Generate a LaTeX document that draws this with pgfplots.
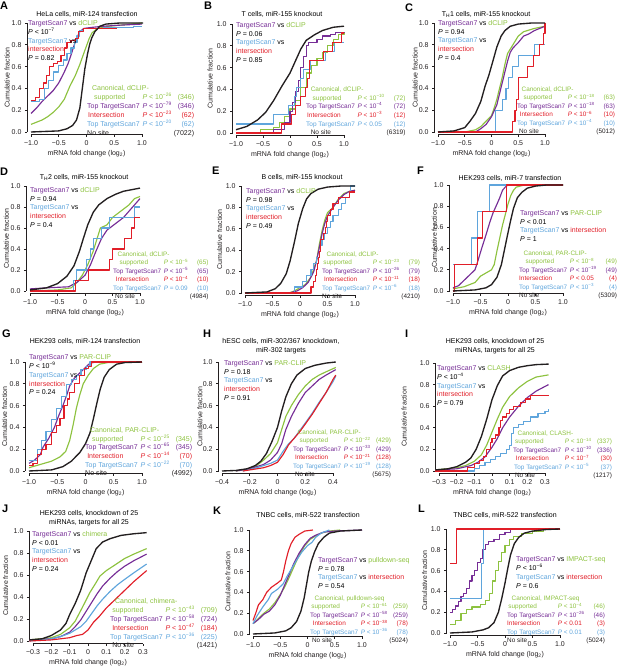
\documentclass[border=0pt]{standalone}
\usepackage{pgfplots}
\pgfplotsset{compat=1.18}
\usepackage{fontspec}
\setmainfont{Liberation Sans}
\definecolor{cg}{RGB}{141,194,63}
\definecolor{cp}{RGB}{118,45,150}
\definecolor{cr}{RGB}{225,30,40}
\definecolor{cb}{RGB}{95,165,220}
\definecolor{ck}{RGB}{35,31,32}
\newcommand\fs{\fontsize{7bp}{8.7bp}\selectfont}
\newcommand\fj{\fontsize{7bp}{8.1bp}\selectfont}
\newcommand\fl{\fontsize{6.4bp}{8.5bp}\selectfont}
\newcommand\fm{\fontsize{6.5bp}{8.6bp}\selectfont}
\newcommand\cG[1]{\textcolor{cg}{#1}}
\newcommand\cP[1]{\textcolor{cp}{#1}}
\newcommand\cR[1]{\textcolor{cr}{#1}}
\newcommand\cB[1]{\textcolor{cb}{#1}}
\newcommand\Pe[1]{\textit{P} < 10\textsuperscript{−#1}}
\newcommand\Pq[1]{\textit{P} = #1}
\newcommand\Pl[1]{\textit{P} < #1}
\newcommand\Rw[4]{\textcolor{#1}{#2} & \textcolor{#1}{#3} & \textcolor{#1}{#4}\\}
% legend block: [font] position, green first line, rows
\newcommand\Leg[4][\fl]{\node[anchor=north west, inner sep=0pt, font=#1] at (#2) {\begin{tabular}{@{}l@{\hspace{0.4em}}l@{\hspace{0.3em}}r@{}}\multicolumn{3}{@{}l@{}}{\cG{\hspace{0.7em}#3}}\\ #4\end{tabular}};}
% five-line comparison block
\newcommand\BlkF[4]{\node[anchor=north west, inner sep=0pt, font=\fs] at (#1) {\begin{tabular}{@{}l@{}}\cP{TargetScan7} vs \cG{#2}\\ #3\\ \cB{TargetScan7} vs\\ \cR{intersection}\\ #4\end{tabular}};}
% four-line comparison block
\newcommand\BlkS[4]{\node[anchor=north west, inner sep=0pt, font=\fs] at (#1) {\begin{tabular}{@{}l@{}}\cP{TargetScan7} vs \cG{#2}\\ #3\\ \cB{TargetScan7} vs \cR{intersection}\\ #4\end{tabular}};}
\newcommand\Ttl[2]{\node[font=\fs, align=center, inner sep=0pt] at (#1) {#2};}
\newcommand\Let[2]{\node[anchor=north west, inner sep=0pt, font=\fontsize{11bp}{11bp}\selectfont\bfseries] at (#1) {#2};}
\pgfplotsset{
 cdf/.style={scale only axis, ymin=0, ymax=1, clip=false,
  axis lines=left, axis line style={-, line width=0.6bp, ck},
  axis x line shift=2.5bp, axis y line shift=3.5bp,
  tick align=outside, major tick length=2.5bp,
  tick style={line width=0.6bp, ck},
  tick label style={font=\fs, ck}, label style={font=\fs, ck},
  ytick={0,0.2,0.4,0.6,0.8,1}, yticklabels={0.0,0.2,0.4,0.6,0.8,1.0},
  xlabel={mRNA fold change (log\textsubscript{2})}, ylabel={Cumulative fraction},
  xlabel style={yshift=1.5bp},
  ylabel style={at={(axis description cs:-0.215,0.5)}, anchor=center}},
 yl/.style={ylabel style={at={(axis description cs:#1,0.5)}}},
 panel/.style n args={6}{at={(#1bp,#2bp)}, anchor=south west, width=#3bp, height=#4bp, xmin=#5, xmax=#6},
 xa/.style={xtick={-1,-0.5,0,0.5,1}, xticklabels={−1.0,−0.5,0,0.5,1.0}},
 xh/.style={xtick={-0.4,-0.2,0,0.2,0.4}, xticklabels={−0.4,−0.2,0,0.2,0.4}},
 xi/.style={xtick={-0.3,-0.2,-0.1,0,0.1,0.2,0.3}, xticklabels={−0.3,−0.2,−0.1,0,0.1,0.2,0.3}},
 lk/.style={ck, line width=1.35bp, line join=round},
 lg/.style={cg, line width=1.15bp, line join=round},
 lp/.style={cp, line width=1.15bp, line join=round},
 lr/.style={cr, line width=1.15bp, line join=round},
 lb/.style={cb, line width=1.15bp, line join=round},
 st/.style={const plot mark left},
}
\begin{document}
\begin{tikzpicture}
\useasboundingbox (0,0) rectangle (617bp,667bp);
% ---------------- A
\begin{axis}[cdf, panel={31}{535}{111}{109}{-1}{1}, xa]
\addplot[lg] coordinates {(-1,0.07)(-0.9,0.09)(-0.8,0.11)(-0.7,0.14)(-0.6,0.18)(-0.5,0.23)(-0.4,0.3)(-0.3,0.42)(-0.2,0.52)(-0.12,0.62)(-0.05,0.72)(0,0.79)(0.05,0.86)(0.1,0.91)(0.2,0.95)(0.4,0.97)(0.6,0.98)(0.8,0.99)(1.0,1.0)};
\addplot[lp] coordinates {(-1,0.17)(-0.9,0.22)(-0.8,0.28)(-0.7,0.33)(-0.6,0.38)(-0.5,0.45)(-0.4,0.55)(-0.33,0.63)(-0.27,0.72)(-0.22,0.8)(-0.17,0.87)(-0.12,0.92)(-0.05,0.95)(0.1,0.96)(0.3,0.97)(0.6,0.98)(1.0,0.99)};
\addplot[lb,st] coordinates {(-1.0,0.28)(-0.85,0.3)(-0.75,0.4)(-0.68,0.47)(-0.6,0.55)(-0.5,0.61)(-0.42,0.66)(-0.35,0.72)(-0.28,0.77)(-0.22,0.82)(-0.17,0.88)(-0.12,0.93)(-0.05,0.95)(0.3,0.96)(0.85,0.97)(1.0,0.97)};
\addplot[lr,st] coordinates {(-1.0,0.29)(-0.92,0.32)(-0.85,0.40)(-0.78,0.45)(-0.72,0.52)(-0.66,0.6)(-0.6,0.63)(-0.52,0.65)(-0.46,0.7)(-0.4,0.77)(-0.35,0.82)(-0.28,0.84)(-0.2,0.86)(-0.15,0.92)(-0.05,0.95)(0.55,0.95)};
\addplot[lk] coordinates {(-1,0.0)(-0.5,0.01)(-0.35,0.03)(-0.25,0.06)(-0.18,0.11)(-0.12,0.22)(-0.08,0.38)(-0.03,0.58)(0.02,0.72)(0.06,0.81)(0.1,0.87)(0.15,0.92)(0.24,0.97)(0.35,0.99)(0.6,1.0)(1.02,1.0)};
\end{axis}
% ---------------- B
\begin{axis}[cdf, panel={236}{534}{108}{109}{-1}{1}, xa, yl=-0.24]
\addplot[lg,st] coordinates {(-1,0.0)(-0.55,0.03)(-0.3,0.05)(-0.2,0.1)(-0.1,0.15)(0,0.22)(0.1,0.3)(0.2,0.42)(0.3,0.55)(0.4,0.62)(0.5,0.68)(0.6,0.74)(0.7,0.8)(0.8,0.86)(0.9,0.9)(1.0,0.93)};
\addplot[lp,st] coordinates {(-1,0.0)(-0.3,0.03)(-0.1,0.1)(0,0.2)(0.05,0.28)(0.1,0.38)(0.15,0.48)(0.2,0.6)(0.25,0.7)(0.3,0.8)(0.35,0.83)(0.5,0.86)(0.6,0.89)(0.75,0.9)(0.85,0.92)(1.0,0.93)};
\addplot[lb,st] coordinates {(-1,0.083)(-0.3,0.167)(-0.02,0.25)(0.08,0.333)(0.12,0.417)(0.2,0.5)(0.25,0.583)(0.38,0.667)(0.65,0.75)(0.82,0.833)(1.0,0.833)};
\addplot[lr,st] coordinates {(-1,0)(-0.15,0.083)(0.02,0.167)(0.1,0.25)(0.2,0.333)(0.28,0.417)(0.33,0.5)(0.36,0.667)(0.62,0.75)(0.78,0.833)(0.95,0.917)(1.0,0.917)};
\addplot[lk] coordinates {(-1,0.03)(-0.8,0.06)(-0.6,0.12)(-0.45,0.19)(-0.3,0.3)(-0.15,0.43)(0,0.55)(0.1,0.66)(0.2,0.77)(0.3,0.85)(0.45,0.9)(0.6,0.94)(0.8,0.97)(1.0,0.98)};
\end{axis}
% ---------------- C
\begin{axis}[cdf, panel={438}{535}{107}{109}{-1}{1}, xa]
\addplot[lg] coordinates {(-0.5,0.0)(-0.3,0.02)(-0.2,0.05)(-0.1,0.1)(0,0.15)(0.05,0.22)(0.1,0.3)(0.15,0.4)(0.2,0.5)(0.25,0.62)(0.3,0.72)(0.4,0.8)(0.5,0.88)(0.6,0.92)(0.8,0.95)(1.0,0.97)};
\addplot[lp] coordinates {(-0.3,0.0)(-0.2,0.03)(-0.1,0.07)(0,0.14)(0.1,0.25)(0.15,0.35)(0.2,0.45)(0.25,0.55)(0.3,0.65)(0.35,0.73)(0.4,0.77)(0.5,0.82)(0.6,0.88)(0.7,0.9)(0.8,0.93)(1.0,0.97)};
\addplot[lb,st] coordinates {(-1,0)(0.08,0.2)(0.2,0.3)(0.27,0.4)(0.32,0.5)(0.4,0.6)(0.5,0.7)(0.8,0.8)(1.0,0.8)};
\addplot[lr,st] coordinates {(-1,0)(0.4,0.1)(0.44,0.2)(0.47,0.3)(0.5,0.5)(0.68,0.6)(0.78,0.7)(0.9,0.8)(0.97,0.9)(1.0,1.0)};
\addplot[lk] coordinates {(-1,0.0)(-0.7,0.01)(-0.5,0.04)(-0.4,0.1)(-0.3,0.17)(-0.2,0.28)(-0.12,0.42)(-0.05,0.52)(0.02,0.64)(0.1,0.78)(0.18,0.88)(0.25,0.93)(0.35,0.97)(0.5,0.99)(0.75,1.0)(1.0,1.0)};
\end{axis}
% ---------------- D
\begin{axis}[cdf, panel={30}{376}{110}{105}{-1}{1}, xa]
\addplot[lg] coordinates {(-1,0.0)(-0.5,0.01)(-0.25,0.03)(-0.15,0.08)(-0.05,0.15)(0.05,0.25)(0.15,0.38)(0.22,0.5)(0.28,0.6)(0.4,0.63)(0.5,0.7)(0.6,0.74)(0.7,0.78)(0.8,0.82)(0.9,0.88)(1.0,0.9)};
\addplot[lp] coordinates {(-1,0.02)(-0.7,0.03)(-0.3,0.04)(-0.15,0.08)(0,0.15)(0.1,0.25)(0.2,0.38)(0.3,0.5)(0.4,0.58)(0.5,0.62)(0.6,0.66)(0.7,0.7)(0.8,0.76)(0.9,0.82)(1.0,0.88)};
\addplot[lb,st] coordinates {(-1,0)(-0.21,0.1)(-0.15,0.2)(0.03,0.3)(0.1,0.4)(0.15,0.5)(0.3,0.6)(0.45,0.7)(0.9,0.8)(1.0,0.8)};
\addplot[lr,st] coordinates {(-1,0)(-0.18,0.1)(0.07,0.2)(0.45,0.3)(0.5,0.4)(0.72,0.5)(0.85,0.6)(0.9,0.7)(1.0,0.7)};
\addplot[lk] coordinates {(-1,0.01)(-0.7,0.03)(-0.5,0.07)(-0.33,0.14)(-0.2,0.24)(-0.1,0.38)(-0.03,0.5)(0.05,0.63)(0.15,0.75)(0.25,0.82)(0.4,0.88)(0.55,0.92)(0.7,0.95)(1.0,0.98)};
\end{axis}
% ---------------- E
\begin{axis}[cdf, panel={245}{374}{110}{107}{-1}{1}, xa, yl=-0.23]
\addplot[lg] coordinates {(-0.2,0)(-0.1,0.02)(0,0.05)(0.1,0.08)(0.2,0.15)(0.3,0.3)(0.35,0.45)(0.4,0.58)(0.45,0.68)(0.5,0.75)(0.6,0.8)(0.7,0.88)(0.8,0.93)(0.9,0.95)(1.0,0.96)};
\addplot[lp] coordinates {(-0.2,0)(-0.05,0.02)(0.05,0.05)(0.15,0.1)(0.25,0.2)(0.3,0.3)(0.35,0.42)(0.4,0.55)(0.45,0.65)(0.5,0.72)(0.6,0.8)(0.7,0.87)(0.8,0.92)(0.9,0.95)(1.0,0.96)};
\addplot[lb,st] coordinates {(-1,0)(-0.1,0.056)(0.05,0.111)(0.12,0.167)(0.2,0.222)(0.25,0.278)(0.3,0.333)(0.35,0.389)(0.38,0.444)(0.4,0.5)(0.45,0.556)(0.5,0.611)(0.55,0.667)(0.6,0.722)(0.7,0.778)(0.75,0.833)(0.82,0.889)(0.9,0.944)(0.92,1.0)(1.0,1.0)};
\addplot[lr,st] coordinates {(-1,0)(0.2,0.056)(0.25,0.111)(0.28,0.167)(0.3,0.222)(0.32,0.278)(0.34,0.333)(0.36,0.389)(0.38,0.5)(0.42,0.556)(0.46,0.611)(0.48,0.667)(0.5,0.722)(0.55,0.778)(0.6,0.833)(0.7,0.889)(0.9,0.944)(1.0,0.944)};
\addplot[lk] coordinates {(-1,0.0)(-0.6,0.01)(-0.45,0.04)(-0.35,0.09)(-0.25,0.18)(-0.18,0.3)(-0.1,0.48)(-0.03,0.65)(0.05,0.79)(0.12,0.88)(0.2,0.93)(0.33,0.97)(0.5,0.99)(0.75,1.0)(1.0,1.0)};
\end{axis}
% ---------------- F
\begin{axis}[cdf, panel={453}{376}{110}{106}{-1}{1}, xa, yl=-0.17]
\addplot[lg] coordinates {(-1,0.02)(-0.8,0.04)(-0.6,0.08)(-0.5,0.14)(-0.4,0.17)(-0.3,0.2)(-0.25,0.25)(-0.2,0.38)(-0.15,0.5)(-0.1,0.62)(-0.05,0.72)(0,0.82)(0.05,0.9)(0.1,0.95)(0.15,0.98)(0.3,1.0)(1.0,1.0)};
\addplot[lp] coordinates {(-1,0.03)(-0.9,0.05)(-0.8,0.1)(-0.7,0.15)(-0.6,0.2)(-0.55,0.28)(-0.48,0.4)(-0.4,0.53)(-0.33,0.65)(-0.27,0.74)(-0.2,0.82)(-0.15,0.88)(-0.1,0.95)(-0.05,0.98)(0,1.0)(1.0,1.0)};
\addplot[lb,st] coordinates {(-1,0.25)(-0.67,0.5)(-0.55,0.75)(-0.33,1.0)(1.0,1.0)};
\addplot[lr,st] coordinates {(-1,0)(-0.97,0.25)(-0.55,0.5)(-0.47,0.75)(-0.02,1.0)(1.0,1.0)};
\addplot[lk] coordinates {(-1,0.0)(-0.6,0.01)(-0.4,0.03)(-0.3,0.06)(-0.2,0.13)(-0.12,0.25)(-0.06,0.4)(0,0.55)(0.05,0.67)(0.1,0.78)(0.17,0.88)(0.25,0.93)(0.35,0.97)(0.5,0.99)(0.7,1.0)(1.0,1.0)};
\end{axis}
% ---------------- G
\begin{axis}[cdf, panel={29}{196}{113}{109}{-1}{1}, xa]
\addplot[lg] coordinates {(-1,0.03)(-0.8,0.06)(-0.6,0.09)(-0.45,0.13)(-0.35,0.18)(-0.28,0.28)(-0.22,0.42)(-0.16,0.58)(-0.1,0.7)(-0.04,0.8)(0.05,0.88)(0.14,0.94)(0.25,0.98)(0.4,0.995)(1.0,1.0)};
\addplot[lp] coordinates {(-1,0.07)(-0.9,0.1)(-0.8,0.15)(-0.75,0.22)(-0.65,0.3)(-0.55,0.4)(-0.48,0.5)(-0.4,0.6)(-0.33,0.7)(-0.28,0.78)(-0.2,0.85)(-0.1,0.9)(0,0.95)(0.08,0.99)(0.2,1.0)(1,1)};
\addplot[lb,st] coordinates {(-1,0.1)(-0.85,0.2)(-0.78,0.28)(-0.7,0.36)(-0.6,0.47)(-0.51,0.57)(-0.42,0.68)(-0.34,0.79)(-0.25,0.84)(-0.16,0.88)(-0.08,0.93)(0.02,0.96)(0.08,1.0)(1,1)};
\addplot[lr,st] coordinates {(-1,0.05)(-0.93,0.07)(-0.85,0.15)(-0.78,0.2)(-0.7,0.24)(-0.6,0.35)(-0.52,0.42)(-0.45,0.48)(-0.38,0.6)(-0.32,0.66)(-0.28,0.72)(-0.2,0.8)(-0.1,0.88)(-0.02,0.94)(0.05,0.96)(0.1,1.0)(1,1)};
\addplot[lk] coordinates {(-1,0.0)(-0.6,0.01)(-0.4,0.04)(-0.25,0.09)(-0.1,0.17)(0,0.25)(0.08,0.35)(0.14,0.48)(0.2,0.62)(0.26,0.75)(0.33,0.86)(0.42,0.93)(0.55,0.98)(0.7,0.995)(1.0,1.0)};
\end{axis}
% ---------------- H
\begin{axis}[cdf, panel={222}{196}{111}{109}{-0.4}{0.4}, xh, yl=-0.2]
\addplot[lg] coordinates {(-0.3,0.0)(-0.2,0.02)(-0.15,0.05)(-0.1,0.1)(-0.05,0.16)(0,0.26)(0.03,0.38)(0.06,0.5)(0.1,0.6)(0.15,0.7)(0.2,0.78)(0.25,0.84)(0.3,0.88)(0.35,0.91)(0.42,0.95)};
\addplot[lp] coordinates {(-0.3,0)(-0.2,0.02)(-0.1,0.06)(-0.05,0.1)(0,0.17)(0.03,0.25)(0.06,0.38)(0.1,0.5)(0.15,0.62)(0.2,0.72)(0.25,0.78)(0.3,0.84)(0.35,0.88)(0.42,0.93)};
\addplot[lb] coordinates {(-0.25,0.0)(-0.15,0.03)(-0.1,0.05)(-0.05,0.07)(0,0.1)(0.04,0.18)(0.08,0.25)(0.12,0.3)(0.16,0.37)(0.2,0.44)(0.25,0.53)(0.3,0.63)(0.35,0.72)(0.4,0.82)(0.42,0.87)};
\addplot[lr] coordinates {(-0.25,0.0)(-0.2,0.01)(-0.1,0.03)(-0.05,0.05)(0,0.08)(0.04,0.15)(0.08,0.24)(0.12,0.3)(0.16,0.36)(0.2,0.43)(0.25,0.52)(0.3,0.62)(0.35,0.72)(0.4,0.84)(0.42,0.88)};
\addplot[lk] coordinates {(-0.4,0.0)(-0.3,0.005)(-0.22,0.02)(-0.16,0.05)(-0.12,0.09)(-0.08,0.16)(-0.04,0.27)(0,0.4)(0.03,0.55)(0.06,0.68)(0.1,0.8)(0.14,0.88)(0.2,0.94)(0.27,0.97)(0.35,0.99)(0.42,1.0)};
\end{axis}
% ---------------- I
\begin{axis}[cdf, panel={439}{196}{106}{108}{-0.3}{0.3}, xi, yl=-0.33]
\addplot[lg] coordinates {(-0.32,0.01)(-0.2,0.03)(-0.15,0.05)(-0.1,0.09)(-0.06,0.15)(-0.03,0.24)(0,0.36)(0.03,0.48)(0.06,0.59)(0.1,0.69)(0.15,0.77)(0.2,0.83)(0.25,0.87)(0.32,0.89)};
\addplot[lp] coordinates {(-0.32,0.01)(-0.2,0.02)(-0.12,0.05)(-0.08,0.08)(-0.04,0.13)(0,0.22)(0.03,0.3)(0.06,0.4)(0.1,0.5)(0.15,0.6)(0.2,0.68)(0.25,0.74)(0.32,0.8)};
\addplot[lb,st] coordinates {(-0.32,0.0)(-0.1,0.027)(-0.07,0.054)(-0.04,0.081)(-0.01,0.108)(0.02,0.135)(0.05,0.16)(0.08,0.2)(0.1,0.24)(0.11,0.35)(0.12,0.4)(0.15,0.43)(0.18,0.46)(0.22,0.5)(0.26,0.53)(0.3,0.55)(0.32,0.57)};
\addplot[lr,st] coordinates {(-0.32,0.0)(-0.14,0.033)(-0.1,0.067)(-0.07,0.1)(-0.05,0.133)(-0.03,0.2)(-0.01,0.267)(0.0,0.3)(0.02,0.333)(0.04,0.4)(0.05,0.467)(0.06,0.5)(0.08,0.533)(0.1,0.567)(0.12,0.6)(0.16,0.633)(0.19,0.667)(0.22,0.7)(0.32,0.7)};
\addplot[lk] coordinates {(-0.32,0.01)(-0.25,0.02)(-0.2,0.04)(-0.15,0.08)(-0.12,0.12)(-0.09,0.2)(-0.06,0.32)(-0.03,0.48)(0,0.66)(0.03,0.79)(0.06,0.88)(0.1,0.93)(0.15,0.96)(0.2,0.975)(0.25,0.985)(0.32,0.99)};
\end{axis}
% ---------------- J
\begin{axis}[cdf, panel={33}{26}{110}{110}{-0.3}{0.3}, xi, yl=-0.25]
\addplot[lg] coordinates {(-0.32,0.01)(-0.2,0.03)(-0.15,0.06)(-0.1,0.12)(-0.07,0.18)(-0.045,0.26)(-0.02,0.34)(0.01,0.44)(0.04,0.52)(0.065,0.59)(0.1,0.64)(0.155,0.7)(0.2,0.75)(0.25,0.79)(0.32,0.84)};
\addplot[lp] coordinates {(-0.32,0.01)(-0.2,0.02)(-0.15,0.04)(-0.1,0.08)(-0.07,0.13)(-0.04,0.19)(-0.01,0.27)(0.02,0.35)(0.05,0.43)(0.08,0.5)(0.12,0.57)(0.16,0.63)(0.2,0.68)(0.25,0.73)(0.32,0.79)};
\addplot[lb] coordinates {(-0.32,0.0)(-0.2,0.02)(-0.15,0.04)(-0.1,0.07)(-0.07,0.1)(-0.04,0.13)(-0.01,0.18)(0.02,0.25)(0.05,0.32)(0.08,0.38)(0.12,0.45)(0.16,0.51)(0.2,0.56)(0.25,0.62)(0.32,0.7)};
\addplot[lr] coordinates {(-0.32,0.0)(-0.2,0.01)(-0.15,0.02)(-0.1,0.03)(-0.06,0.05)(-0.03,0.06)(0,0.1)(0.03,0.17)(0.06,0.22)(0.1,0.3)(0.15,0.38)(0.2,0.46)(0.25,0.54)(0.32,0.64)};
\addplot[lk] coordinates {(-0.32,0.01)(-0.25,0.02)(-0.2,0.05)(-0.15,0.1)(-0.12,0.16)(-0.1,0.24)(-0.07,0.34)(-0.04,0.46)(-0.01,0.62)(0.02,0.74)(0.045,0.84)(0.08,0.9)(0.12,0.93)(0.18,0.96)(0.25,0.975)(0.32,0.985)};
\end{axis}
% ---------------- K
\begin{axis}[cdf, panel={253}{33}{109}{104}{-1}{1}, xa, yl=-0.23]
\addplot[lg] coordinates {(-1,0.1)(-0.97,0.11)(-0.9,0.15)(-0.8,0.2)(-0.7,0.24)(-0.6,0.3)(-0.5,0.38)(-0.42,0.45)(-0.33,0.55)(-0.23,0.67)(-0.15,0.76)(-0.05,0.85)(0.05,0.91)(0.14,0.94)(0.25,0.97)(0.4,0.99)(0.6,1.0)};
\addplot[lp] coordinates {(-1,0.1)(-0.9,0.14)(-0.8,0.19)(-0.7,0.22)(-0.6,0.28)(-0.5,0.37)(-0.42,0.47)(-0.33,0.58)(-0.25,0.68)(-0.15,0.78)(-0.05,0.86)(0.05,0.92)(0.15,0.95)(0.3,0.98)(0.5,0.99)(1.0,1.0)};
\addplot[lb] coordinates {(-1,0.1)(-0.92,0.18)(-0.82,0.26)(-0.72,0.33)(-0.66,0.39)(-0.55,0.43)(-0.45,0.48)(-0.38,0.55)(-0.29,0.63)(-0.2,0.71)(-0.1,0.79)(0,0.85)(0.08,0.88)(0.15,0.93)(0.25,0.97)(0.4,1.0)};
\addplot[lr] coordinates {(-1,0.13)(-0.95,0.2)(-0.9,0.28)(-0.82,0.33)(-0.75,0.4)(-0.66,0.45)(-0.55,0.49)(-0.48,0.52)(-0.44,0.6)(-0.4,0.7)(-0.35,0.8)(-0.3,0.87)(-0.23,0.93)(-0.15,0.96)(-0.05,0.99)(0.1,1.0)};
\addplot[lk] coordinates {(-1,0.0)(-0.6,0.01)(-0.4,0.03)(-0.3,0.06)(-0.2,0.12)(-0.12,0.22)(-0.06,0.35)(-0.02,0.47)(0.02,0.59)(0.07,0.7)(0.13,0.79)(0.2,0.87)(0.3,0.93)(0.4,0.97)(0.6,0.99)(1.0,1.0)};
\end{axis}
% ---------------- L
\begin{axis}[cdf, panel={450}{34}{110}{104}{-1}{1}, xa, yl=-0.23]
\addplot[lg,st] coordinates {(-1,0.08)(-0.9,0.12)(-0.8,0.19)(-0.7,0.23)(-0.6,0.25)(-0.45,0.27)(-0.35,0.31)(-0.28,0.38)(-0.22,0.5)(-0.17,0.6)(-0.12,0.69)(-0.06,0.77)(0,0.84)(0.08,0.9)(0.15,0.93)(0.3,0.96)(0.5,0.98)(0.7,1.0)(1.0,1.0)};
\addplot[lp,st] coordinates {(-1,0.2)(-0.95,0.23)(-0.9,0.26)(-0.85,0.3)(-0.8,0.35)(-0.75,0.38)(-0.7,0.43)(-0.65,0.5)(-0.6,0.55)(-0.55,0.6)(-0.5,0.68)(-0.45,0.72)(-0.4,0.8)(-0.35,0.85)(-0.3,0.88)(-0.2,0.9)(-0.1,0.95)(0,0.97)(0.1,1.0)(1.0,1.0)};
\addplot[lb,st] coordinates {(-1,0.333)(-0.43,0.667)(-0.39,1.0)(1.0,1.0)};
\addplot[lr,st] coordinates {(-1,0.667)(-0.88,1.0)(1.0,1.0)};
\addplot[lk] coordinates {(-1,0.0)(-0.6,0.01)(-0.4,0.03)(-0.3,0.05)(-0.2,0.1)(-0.12,0.2)(-0.06,0.33)(0,0.48)(0.05,0.62)(0.1,0.75)(0.17,0.86)(0.25,0.92)(0.35,0.96)(0.5,0.98)(0.75,0.995)(1.0,1.0)};
\end{axis}
% ---------------- letters
\Let{0bp,665bp}{A}\Let{204bp,665bp}{B}\Let{405bp,663bp}{C}
\Let{0bp,499bp}{D}\Let{212bp,500bp}{E}\Let{417bp,500bp}{F}
\Let{2bp,337bp}{G}\Let{203bp,337bp}{H}\Let{405bp,337bp}{I}
\Let{2bp,162bp}{J}\Let{213bp,160bp}{K}\Let{418bp,162bp}{L}
% ---------------- titles
\Ttl{87bp,653bp}{HeLa cells, miR-124 transfection}
\Ttl{282bp,653bp}{T cells, miR-155 knockout}
\Ttl{486bp,653bp}{T\textsubscript{H}1 cells, miR-155 knockout}
\Ttl{84bp,490bp}{T\textsubscript{H}2 cells, miR-155 knockout}
\Ttl{302bp,490bp}{B cells, miR-155 knockout}
\Ttl{510bp,489bp}{HEK293 cells, miR-7 transfection}
\Ttl{85bp,326bp}{HEK293 cells, miR-124 transfection}
\Ttl{281bp,321bp}{hESC cells, miR-302/367 knockdown,\\miR-302 targets}
\Ttl{495bp,321bp}{HEK293 cells, knockdown of 25\\miRNAs, targets for all 25}
\Ttl{89bp,149bp}{HEK293 cells, knockdown of 25\\miRNAs, targets for all 25}
\Ttl{308bp,152bp}{TNBC cells, miR-522 transfection}
\Ttl{505bp,152bp}{TNBC cells, miR-522 transfection}
% ---------------- comparison blocks
\BlkF{28bp,647.7bp}{dCLIP}{\Pe{7}}{\Pq{0.82}}
\BlkF{236bp,645.7bp}{dCLIP}{\Pq{0.06}}{\Pq{0.85}}
\BlkF{438bp,647.7bp}{dCLIP}{\Pq{0.94}}{\Pq{0.4}}
\BlkF{30bp,480.7bp}{dCLIP}{\Pq{0.94}}{\Pq{0.4}}
\BlkF{246bp,479.7bp}{dCLIP}{\Pq{0.98}}{\Pq{0.49}}
\BlkS{520bp,457.7bp}{PAR-CLIP}{\Pl{0.01}}{\Pq{1}}
\BlkF{29bp,313.7bp}{PAR-CLIP}{\Pe{9}}{\Pq{0.24}}
\BlkF{224bp,307.7bp}{PAR-CLIP}{\Pq{0.18}}{\Pq{0.91}}
\BlkF{437bp,302.7bp}{CLASH}{\Pe{4}}{\Pq{0.79}}
\BlkF{32bp,136.7bp}{chimera}{\Pl{0.01}}{\Pq{0.24}}
\BlkS{318bp,110.7bp}{pulldown-seq}{\Pq{0.78}}{\Pq{0.54}}
\BlkS{516bp,111.7bp}{IMPACT-seq}{\Pe{6}}{\Pq{0.6}}
% ---------------- legends
\Leg[\fs]{87bp,582.7bp}{Canonical, dCLIP-}{\Rw{cg}{\hspace{1em}supported}{\Pe{26}}{(346)}\Rw{cp}{Top TargetScan7}{\Pe{79}}{(346)}\Rw{cr}{\hspace{0.15em}Intersection}{\Pe{23}}{(62)}\Rw{cb}{Top TargetScan7}{\Pe{20}}{(62)}\Rw{ck}{No site}{}{(7022)}}
\Leg[\fm]{306bp,581.7bp}{Canonical, dCLIP-}{\Rw{cg}{\hspace{1em}supported}{\Pe{10}}{(72)}\Rw{cp}{Top TargetScan7}{\Pe{4}}{(72)}\Rw{cr}{\hspace{0.15em}Intersection}{\Pe{3}}{(12)}\Rw{cb}{Top TargetScan7}{\Pl{0.05}}{(12)}\Rw{ck}{\hspace{0.7em}No site}{}{(6319)}}
\Leg{517bp,581.7bp}{Canonical, dCLIP-}{\Rw{cg}{\hspace{1em}supported}{\Pe{18}}{(63)}\Rw{cp}{Top TargetScan7}{\Pe{18}}{(63)}\Rw{cr}{\hspace{0.4em}Intersection}{\Pe{6}}{(10)}\Rw{cb}{Top TargetScan7}{\Pe{4}}{(10)}\Rw{ck}{\hspace{0.3em}No site}{}{(5012)}}
\Leg{113bp,416.7bp}{Canonical, dCLIP-}{\Rw{cg}{\hspace{1em}supported}{\Pe{5}}{(65)}\Rw{cp}{Top TargetScan7}{\Pe{5}}{(65)}\Rw{cr}{\hspace{0.4em}Intersection}{\Pe{4}}{(10)}\Rw{cb}{Top TargetScan7}{\Pq{0.09}}{(10)}\Rw{ck}{\hspace{0.3em}No site}{}{(4984)}}
\Leg{322bp,416.7bp}{Canonical, dCLIP-}{\Rw{cg}{\hspace{0.2em}supported}{\Pe{23}}{(79)}\Rw{cp}{Top TargetScan7}{\Pe{26}}{(79)}\Rw{cr}{\hspace{0.3em}Intersection}{\Pe{11}}{(18)}\Rw{cb}{Top TargetScan7}{\Pe{6}}{(18)}\Rw{ck}{No site}{}{(4210)}}
\Leg{519bp,417.7bp}{Canonical, PAR-CLIP-}{\Rw{cg}{\hspace{1em}supported}{\Pe{8}}{(49)}\Rw{cp}{Top TargetScan7}{\Pe{19}}{(49)}\Rw{cr}{Intersection}{\Pl{0.05}}{(4)}\Rw{cb}{Top TargetScan7}{\Pe{3}}{(4)}\Rw{ck}{No site}{}{(5309)}}
\Leg[\fj]{85bp,240.7bp}{Canonical, PAR-CLIP-}{\Rw{cg}{\hspace{1em}supported}{\Pe{25}}{(345)}\Rw{cp}{Top TargetScan7}{\Pe{65}}{(345)}\Rw{cr}{\hspace{0.3em}Intersection}{\Pe{14}}{(70)}\Rw{cb}{Top TargetScan7}{\Pe{22}}{(70)}\Rw{ck}{No site}{}{(4992)}}
\Leg{293bp,238.7bp}{Canonical, PAR-CLIP-}{\Rw{cg}{\hspace{1em}supported}{\Pe{22}}{(429)}\Rw{cp}{Top TargetScan7}{\Pe{33}}{(429)}\Rw{cr}{\hspace{0.3em}Intersection}{\Pe{21}}{(128)}\Rw{cb}{Top TargetScan7}{\Pe{19}}{(128)}\Rw{ck}{\hspace{0.3em}No site}{}{(5675)}}
\Leg{513bp,237.7bp}{Canonical, CLASH-}{\Rw{cg}{\hspace{0.3em}supported}{\Pe{14}}{(337)}\Rw{cp}{Top TargetScan7}{\Pe{10}}{(336)}\Rw{cr}{\hspace{0.4em}Intersection}{\Pe{7}}{(30)}\Rw{cb}{\hspace{0.15em}Top TargetScan7}{\Pe{5}}{(37)}\Rw{ck}{\hspace{0.3em}No site}{}{(1217)}}
\Leg[\fj]{110bp,69bp}{Canonical, chimera-}{\Rw{cg}{\hspace{0.3em}supported}{\Pe{43}}{(709)}\Rw{cp}{Top TargetScan7}{\Pe{58}}{(724)}\Rw{cr}{\hspace{0.3em}Intersection}{\Pe{47}}{(184)}\Rw{cb}{Top TargetScan7}{\Pe{36}}{(225)}\Rw{ck}{\hspace{0.3em}No site}{}{(1421)}}
\Leg{310bp,72.7bp}{Canonical, pulldown-seq}{\Rw{cg}{\hspace{0.2em}supported}{\Pe{61}}{(259)}\Rw{cp}{Top TargetScan7}{\Pe{58}}{(259)}\Rw{cr}{\hspace{0.4em}Intersection}{\Pe{38}}{(78)}\Rw{cb}{Top TargetScan7}{\Pe{36}}{(78)}\Rw{ck}{\hspace{0.3em}No site}{}{(5024)}}
\Leg{507bp,72.7bp}{Canonical, IMPACT-seq}{\Rw{cg}{\hspace{0.2em}supported}{\Pe{4}}{(46)}\Rw{cp}{Top TargetScan7}{\Pe{26}}{(46)}\Rw{cr}{Intersection}{\Pl{0.01}}{(3)}\Rw{cb}{Top TargetScan7}{\Pl{0.01}}{(3)}\Rw{ck}{No site}{}{(5024)}}
\end{tikzpicture}
\end{document}
